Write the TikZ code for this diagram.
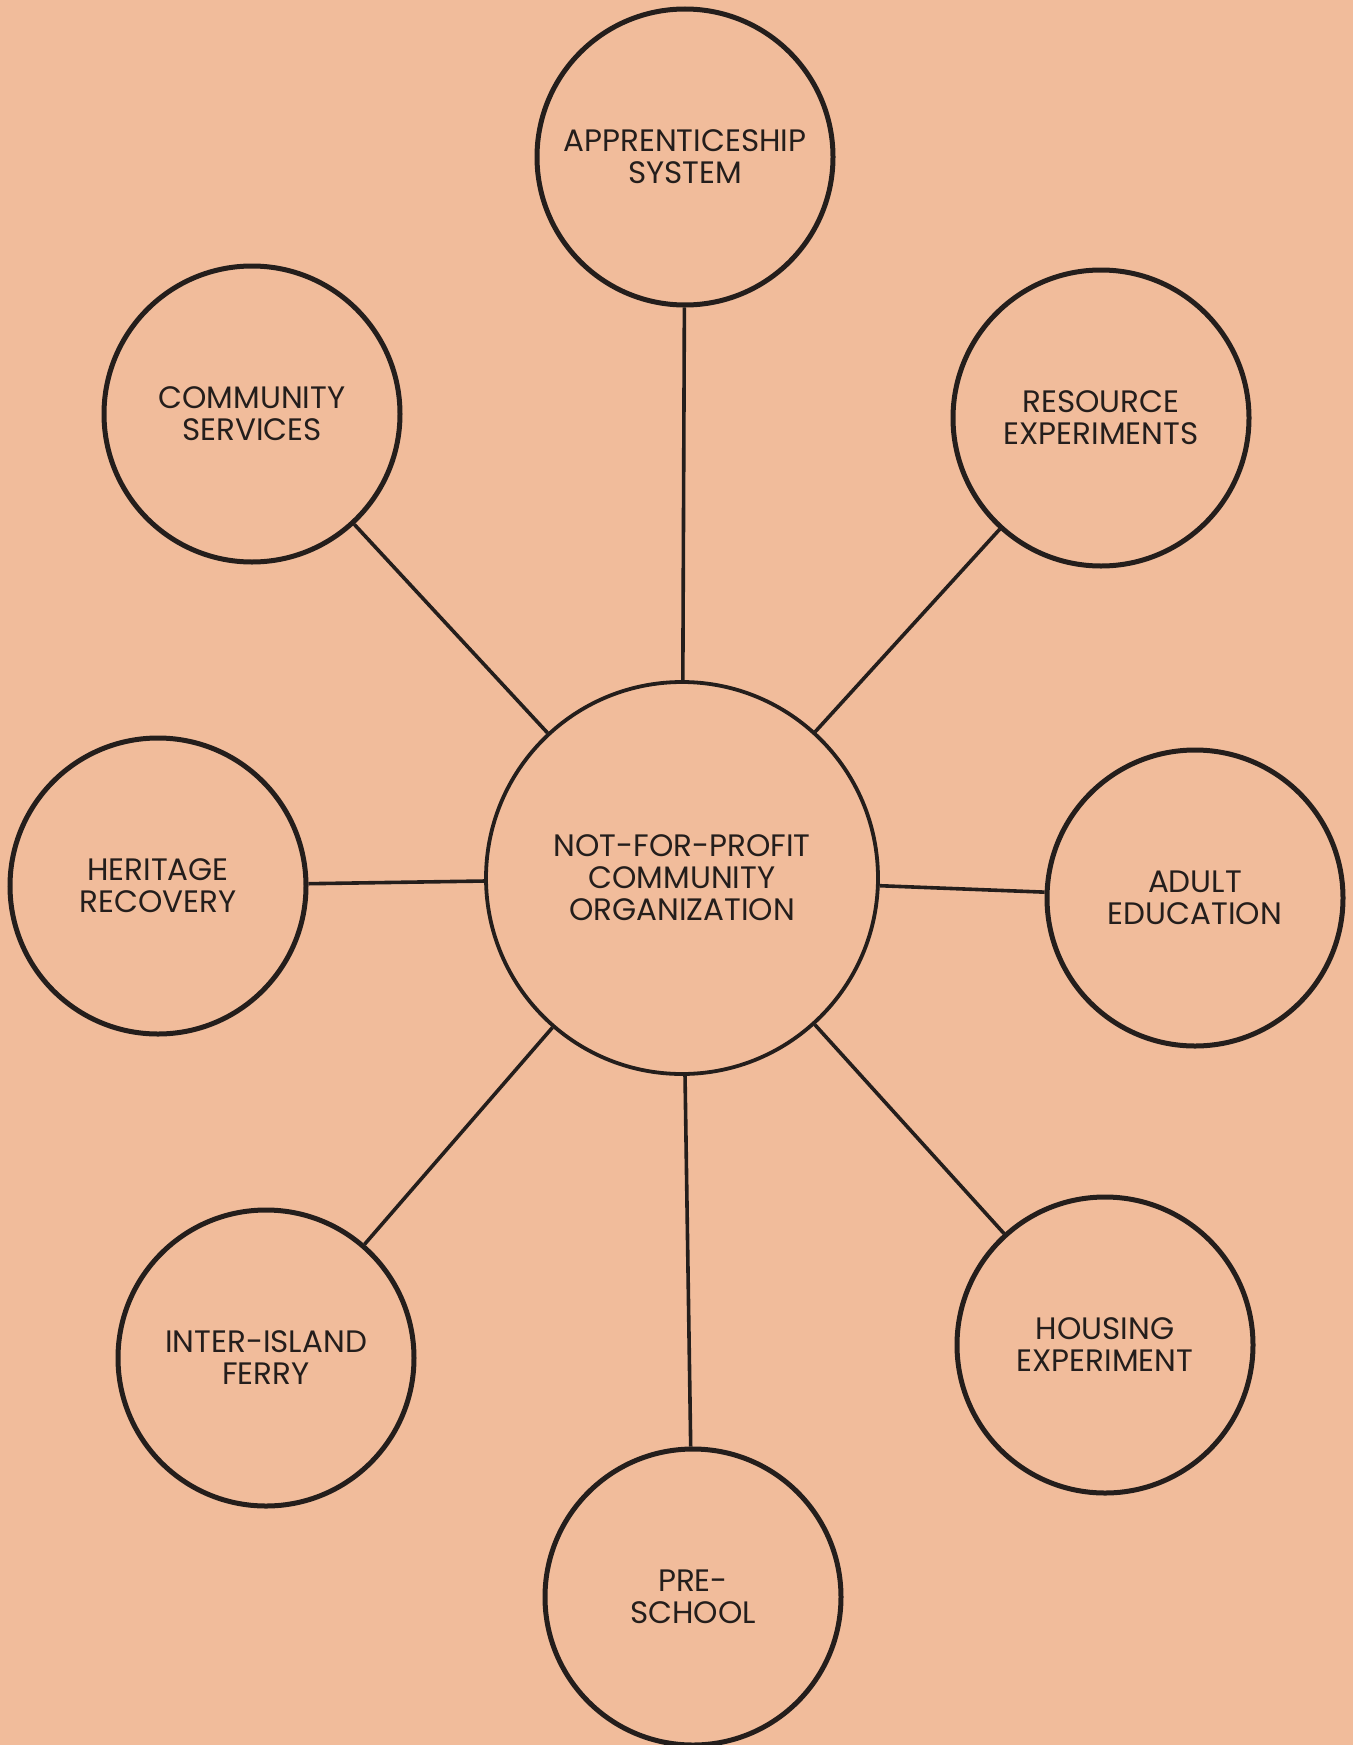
\documentclass[tikz,border=0pt]{standalone}
\usepackage{fontspec}
\setmainfont{Poppins}
\usepackage{tikz}
\usetikzlibrary{positioning}
\definecolor{Paper}{RGB}{241,188,155}
\definecolor{Ink}{RGB}{36,30,28}

\begin{document}
\begin{tikzpicture}[x=1pt,y=-1pt,
    hub/.style={circle,draw=Ink,line width=3.8pt,minimum size=392pt,inner sep=0pt,align=center,text=Ink,font=\fontsize{31}{32}\selectfont},
    topic/.style={circle,draw=Ink,line width=5pt,minimum size=296pt,inner sep=0pt,align=center,text=Ink,font=\fontsize{31}{32}\selectfont},
    spoke/.style={draw=Ink,line width=3.6pt}]
        % paper
        \fill[Paper] (0,0) rectangle (1353,1745);
        \useasboundingbox (0,0) rectangle (1353,1745);

        % Draw the organization in the middle
        \node[hub] (org) at (682,878) {NOT-FOR-PROFIT\\COMMUNITY\\ORGANIZATION};

        % Draw the program circles round it
        \foreach \name/\x/\y/\txt in {
            appr/685/157/{APPRENTICESHIP\\SYSTEM},
            serv/252/414/{COMMUNITY\\SERVICES},
            res/1101/418/{RESOURCE\\EXPERIMENTS},
            heri/158/886/{HERITAGE\\RECOVERY},
            adult/1195/898/{ADULT\\EDUCATION},
            ferry/266/1358/{INTER-ISLAND\\FERRY},
            house/1105/1345/{HOUSING\\EXPERIMENT},
            pre/693/1597/{PRE-\\SCHOOL}}{
            \node[topic] (\name) at (\x,\y) {\txt};
        }

        % Draw the spokes
        \foreach \name in {appr, serv, res, heri, adult, ferry, house, pre}{
            \draw[spoke] (org) -- (\name);
        }
\end{tikzpicture}
\end{document}
